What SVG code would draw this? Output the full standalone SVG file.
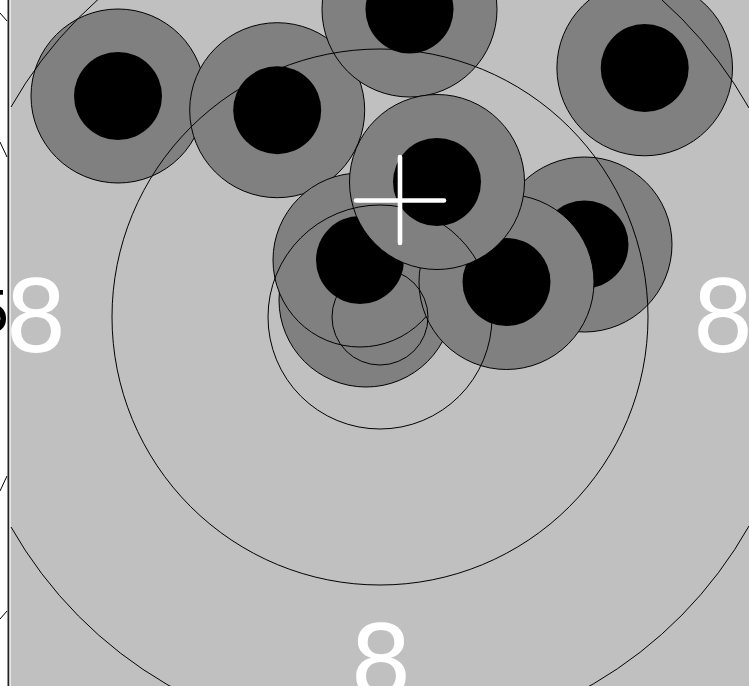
<svg xmlns="http://www.w3.org/2000/svg" width="749" height="686" viewBox="0 0 749 686">
<defs>
<style>
.g{fill:#808080;stroke:#000;stroke-width:1}
.b{fill:#000}
.ring{fill:none;stroke:#000;stroke-width:1}
.num{font-family:"DejaVu Sans",sans-serif;font-size:99px;fill:#fff;text-anchor:middle}
.sl{stroke:#000;stroke-width:1;fill:none}
</style>
<clipPath id="strip"><rect x="0" y="0" width="8" height="686"/></clipPath>
</defs>
<rect x="0" y="0" width="749" height="686" fill="#c0c0c0"/>
<g id="left-panel">
<rect x="0" y="0" width="10.6" height="686" fill="#fff"/>
<g clip-path="url(#strip)">
<text x="11" y="332" font-family="DejaVu Sans,sans-serif" font-size="57" fill="#000" text-anchor="end">5</text>
<line class="sl" x1="0" y1="13" x2="7" y2="21"/>
<line class="sl" x1="0" y1="142" x2="7" y2="157"/>
<line class="sl" x1="0" y1="491" x2="7" y2="476"/>
<line class="sl" x1="0" y1="619" x2="7" y2="611"/>
</g>
<line x1="8.4" y1="0" x2="8.4" y2="686" stroke="#222" stroke-width="1.8"/>
</g>
<g id="holes">
<g id="hole1"><circle class="g" cx="118" cy="96" r="87"/><circle class="b" cx="118" cy="96" r="44"/></g>
<g id="hole2"><circle class="g" cx="277.2" cy="110.2" r="87.5"/><circle class="b" cx="277.2" cy="110.2" r="44"/></g>
<g id="hole3"><circle class="g" cx="409.5" cy="9.5" r="87.5"/><circle class="b" cx="409.5" cy="9.5" r="44"/></g>
<g id="hole4"><circle class="g" cx="644.7" cy="68" r="87.8"/><circle class="b" cx="644.7" cy="68" r="44"/></g>
<g id="hole9"><circle class="g" cx="366" cy="300" r="87"/><circle class="b" cx="366" cy="300" r="44"/></g>
<g id="hole8"><circle class="g" cx="360" cy="260" r="87"/><circle class="b" cx="360" cy="260" r="44"/></g>
<g id="hole6"><circle class="g" cx="584.5" cy="244.5" r="87.5"/><circle class="b" cx="584.5" cy="244.5" r="44"/></g>
<g id="hole7"><circle class="g" cx="506.5" cy="282" r="87.5"/><circle class="b" cx="506.5" cy="282" r="44"/></g>
<g id="hole5"><circle class="g" cx="437" cy="182" r="87.5"/><circle class="b" cx="437" cy="182" r="44"/></g>
</g>
<g id="rings">
<circle class="ring" cx="380" cy="317" r="48"/>
<circle class="ring" cx="380" cy="317" r="112"/>
<circle class="ring" cx="380" cy="317" r="268"/>
<path class="ring" d="M11 107 A424 424 0 0 1 749 108"/>
<path class="ring" d="M11 527 A424 424 0 0 0 749 526"/>
</g>
<g id="cross" stroke="#fff" stroke-width="4.6" stroke-linecap="round">
<line x1="400" y1="157" x2="400" y2="243"/>
<line x1="356" y1="200.5" x2="444" y2="200.5"/>
</g>
<g id="labels">
<text class="num" x="36" y="352">8</text>
<text class="num" x="723" y="352">8</text>
<text class="num" x="381" y="697">8</text>
</g>
</svg>
